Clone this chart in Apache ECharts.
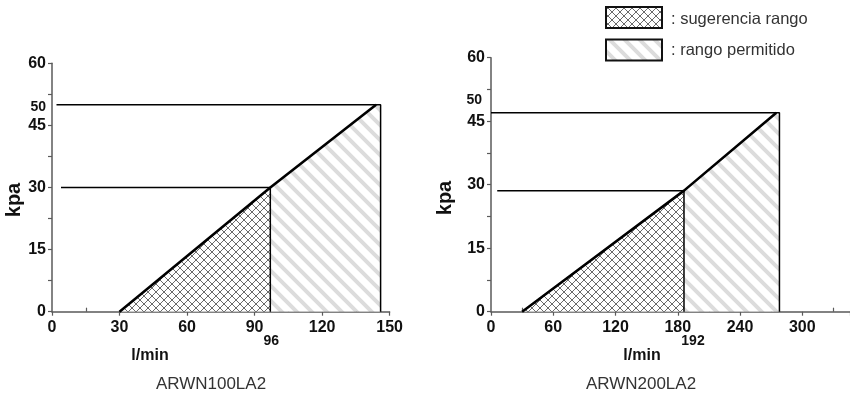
<!DOCTYPE html>
<html>
<head>
<meta charset="utf-8">
<script src="https://cdn.jsdelivr.net/npm/echarts@6/dist/echarts.min.js"></script>
<style>
html,body{margin:0;padding:0;background:#fff;}
#chart{width:850px;height:414px;}
</style>
</head>
<body>
<div id="chart"></div>
<script>
// ---- data ----
const yTicks = [0, 15, 30, 45, 60];
const leftXTicks = [0, 30, 60, 90, 120, 150];
const rightXTicks = [0, 60, 120, 180, 240, 300];
const rightXMax = 346; // axis runs off the right edge

// left chart (ARWN100LA2)
const leftDiag = [[30, 0], [97, 30], [144, 50]];
const leftSuggestEnd = 97;   // l/min where suggested range ends
const leftAllowEnd = 146;    // l/min where allowed range ends
const leftLevels = [30, 50]; // kpa levels of reference lines
const leftLevelStart = [4, 2];
const leftMarkX = { value: 97, text: '96' };
const leftMarkY = { value: 50, text: '50' };

// right chart (ARWN200LA2)
const rightDiag = [[30, 0], [186, 28.6], [275, 47]];
const rightSuggestEnd = 186;
const rightAllowEnd = 278;
const rightLevels = [28.6, 47];
const rightLevelStart = [6, 0];
const rightMarkX = { value: 186, text: '192' };
const rightMarkY = { value: 50, text: '50' };

const titles = ['ARWN100LA2', 'ARWN200LA2'];
const legendNames = [': sugerencia rango', ': rango permitido'];

// ---- patterns ----
function crossPattern() {
  const c = document.createElement('canvas');
  c.width = 8; c.height = 8;
  const g = c.getContext('2d');
  g.fillStyle = '#fff'; g.fillRect(0, 0, 8, 8);
  g.strokeStyle = '#6a6a6a'; g.lineWidth = 1;
  g.beginPath();
  g.moveTo(-1, -1); g.lineTo(9, 9);
  g.moveTo(9, -1); g.lineTo(-1, 9);
  g.stroke();
  return c;
}
function stripePattern() {
  const s = 15;
  const c = document.createElement('canvas');
  c.width = s; c.height = s;
  const g = c.getContext('2d');
  g.fillStyle = '#fff'; g.fillRect(0, 0, s, s);
  g.strokeStyle = '#dcdcdc'; g.lineWidth = 4;
  g.beginPath();
  for (const off of [-s, 0, s]) {
    g.moveTo(off - 2, -2); g.lineTo(off + s + 2, s + 2);
  }
  g.stroke();
  return c;
}
const crossFill = { image: crossPattern(), repeat: 'repeat' };
const stripeFill = { image: stripePattern(), repeat: 'repeat' };

// ---- helpers ----
const FONT = 'Liberation Sans, Arial, sans-serif';
const axisGray = '#5a5a5a';

function buildSeries(idx, diag, sEnd, aEnd, levels, levelStart) {
  const common = { xAxisIndex: idx, yAxisIndex: idx, symbol: 'none', silent: true, animation: false };
  const top = diag[diag.length - 1];
  const list = [];
  list.push(Object.assign({}, common, {
    type: 'line', data: [diag[0], diag[1]], lineStyle: { width: 0 },
    areaStyle: { color: crossFill, opacity: 1 }, z: 1
  }));
  list.push(Object.assign({}, common, {
    type: 'line', data: [diag[1], top, [aEnd, top[1]]], lineStyle: { width: 0 },
    areaStyle: { color: stripeFill, opacity: 1 }, z: 1
  }));
  const ref = [
    [levelStart[1], levels[1]], [aEnd, levels[1]], [aEnd, 0], '-',
    [levelStart[0], levels[0]], [sEnd, levels[0]], [sEnd, 0]
  ];
  list.push(Object.assign({}, common, {
    type: 'line', data: ref, connectNulls: false,
    lineStyle: { color: '#000', width: 1.5 }, z: 3
  }));
  list.push(Object.assign({}, common, {
    type: 'line', data: diag, lineStyle: { color: '#000', width: 2.6 }, z: 4
  }));
  return list;
}

const labelStyle = { color: '#111', fontWeight: 'bold', fontSize: 16, fontFamily: FONT };

function xAxisCfg(idx, max, interval) {
  return {
    type: 'value', gridIndex: idx, min: 0, max: max, interval: interval,
    axisLine: { show: true, lineStyle: { color: axisGray, width: 1.5 } },
    axisTick: { show: true, length: 4, lineStyle: { color: axisGray, width: 1.2 } },
    minorTick: { show: true, splitNumber: 2, length: -4, lineStyle: { color: axisGray, width: 1.2 } },
    splitLine: { show: false }, minorSplitLine: { show: false },
    axisLabel: Object.assign({ margin: 8, showMaxLabel: max % interval === 0 }, labelStyle)
  };
}
function yAxisCfg(idx) {
  return {
    type: 'value', gridIndex: idx, min: yTicks[0], max: yTicks[yTicks.length - 1], interval: 15,
    axisLine: { show: true, lineStyle: { color: axisGray, width: 1.5 } },
    axisTick: { show: true, length: 4, lineStyle: { color: axisGray, width: 1.2 } },
    minorTick: { show: true, splitNumber: 2, length: 4, lineStyle: { color: axisGray, width: 1.2 } },
    splitLine: { show: false }, minorSplitLine: { show: false },
    axisLabel: Object.assign({ margin: 6 }, labelStyle)
  };
}

const chart = echarts.init(document.getElementById('chart'), null, { renderer: 'canvas' });

const textStyleBold = (t, size) => ({ text: t, fill: '#111', font: 'bold ' + size + 'px ' + FONT, textAlign: 'center', textVerticalAlign: 'middle' });

chart.setOption({
  animation: false,
  backgroundColor: '#fff',
  grid: [
    { left: 52, top: 63.3, width: 337.6, height: 248.4 },
    { left: 491, top: 57.7, width: rightXMax * 1.038, height: 254 }
  ],
  xAxis: [xAxisCfg(0, leftXTicks[leftXTicks.length - 1], 30), xAxisCfg(1, rightXMax, 60)],
  yAxis: [yAxisCfg(0), yAxisCfg(1)],
  series: [].concat(
    buildSeries(0, leftDiag, leftSuggestEnd, leftAllowEnd, leftLevels, leftLevelStart),
    buildSeries(1, rightDiag, rightSuggestEnd, rightAllowEnd, rightLevels, rightLevelStart)
  )
});

// labels placed through the axes' own scales
function markTexts(idx, markX, markY, xOff, yOff, yShift) {
  const px = chart.convertToPixel({ gridIndex: idx }, [markX.value, 0]);
  const py = chart.convertToPixel({ gridIndex: idx }, [0, markY.value]);
  return [
    { type: 'text', x: px[0] + xOff, y: px[1] + 29, style: textStyleBold(markX.text, 14) },
    { type: 'text', x: py[0] - yOff, y: py[1] + yShift,
      style: { text: markY.text, fill: '#111', font: 'bold 14px ' + FONT, textAlign: 'right', textVerticalAlign: 'middle' } }
  ];
}

chart.setOption({
  graphic: [].concat(
    markTexts(0, leftMarkX, leftMarkY, 1, 6, 2),
    markTexts(1, rightMarkX, rightMarkY, 9, 9, 0),
    [
      { type: 'text', x: 150, y: 356, style: textStyleBold('l/min', 16) },
      { type: 'text', x: 642, y: 356, style: textStyleBold('l/min', 16) },
      { type: 'text', x: 14, y: 200, rotation: Math.PI / 2, style: textStyleBold('kpa', 20) },
      { type: 'text', x: 445, y: 198, rotation: Math.PI / 2, style: textStyleBold('kpa', 20) },
      { type: 'text', x: 211, y: 384, style: { text: titles[0], fill: '#333', font: '17px ' + FONT, textAlign: 'center', textVerticalAlign: 'middle' } },
      { type: 'text', x: 641, y: 384, style: { text: titles[1], fill: '#333', font: '17px ' + FONT, textAlign: 'center', textVerticalAlign: 'middle' } },
      { type: 'rect', shape: { x: 606, y: 7, width: 56, height: 21 }, style: { fill: crossFill, stroke: '#111', lineWidth: 2 } },
      { type: 'rect', shape: { x: 606, y: 39.5, width: 56, height: 21 }, style: { fill: stripeFill, stroke: '#111', lineWidth: 2 } },
      { type: 'text', x: 671, y: 19, style: { text: legendNames[0], fill: '#333', font: '16.5px ' + FONT, textVerticalAlign: 'middle' } },
      { type: 'text', x: 671, y: 50, style: { text: legendNames[1], fill: '#333', font: '16.5px ' + FONT, textVerticalAlign: 'middle' } }
    ]
  )
});
</script>
</body>
</html>
